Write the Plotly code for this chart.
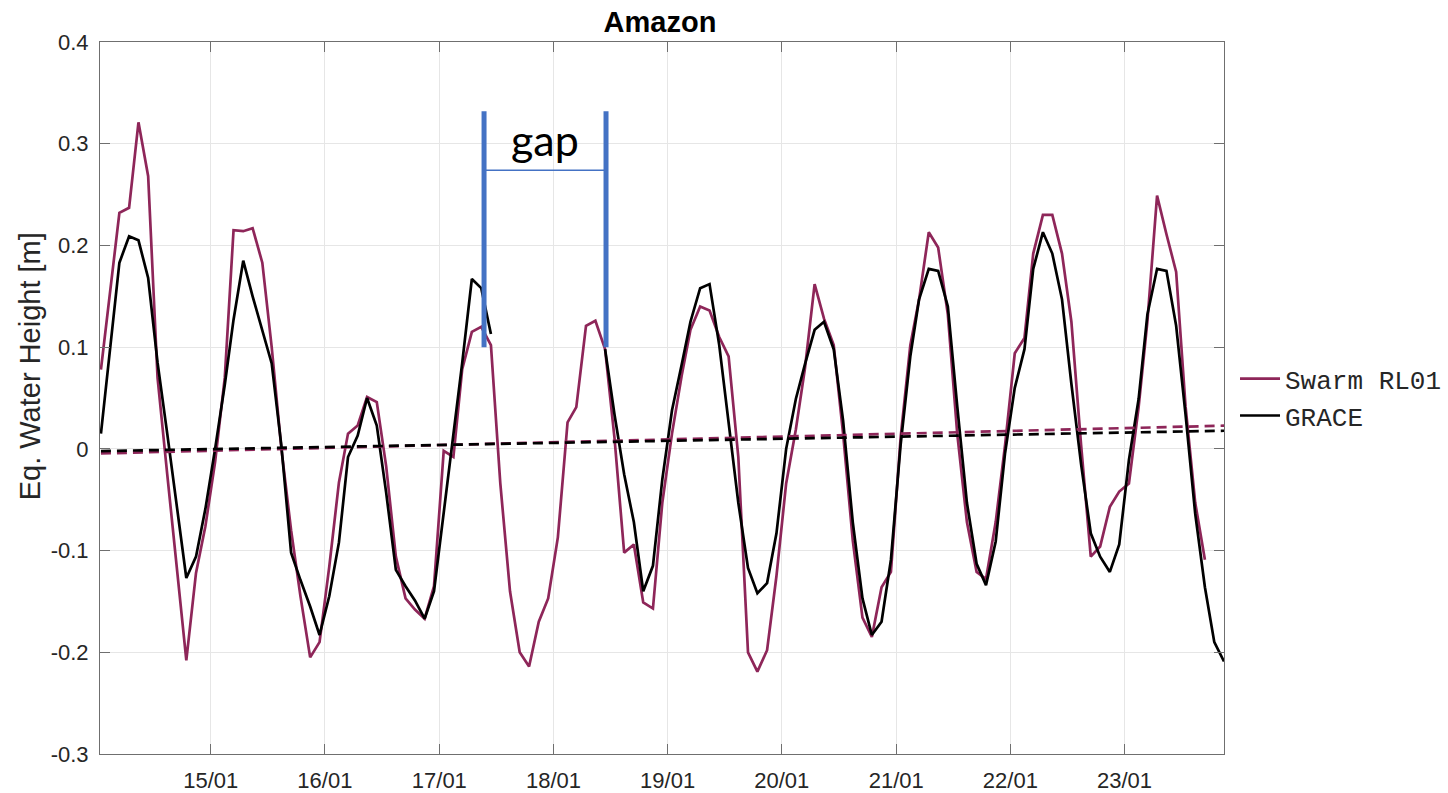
import plotly.graph_objects as go

# ---------------- data ----------------
n_months = 119  # 2014-01 .. 2023-11
dates = [f"{2014 + i // 12}-{i % 12 + 1:02d}-15" for i in range(n_months)]

swarm_values = [
    0.078, 0.16, 0.232, 0.237, 0.321, 0.268, 0.07, -0.025, -0.12, -0.208, -0.122, -0.076,
    -0.013, 0.07, 0.215, 0.214, 0.217, 0.183, 0.1, 0.0, -0.08, -0.145, -0.205, -0.19,
    -0.116, -0.033, 0.015, 0.023, 0.051, 0.046, -0.017, -0.106, -0.147, -0.158, -0.167, -0.135,
    -0.002, -0.008, 0.078, 0.115, 0.12, 0.102, -0.034, -0.14, -0.2, -0.214, -0.17, -0.147,
    -0.087, 0.026, 0.041, 0.121, 0.126, 0.098, 0.011, -0.102, -0.094, -0.151, -0.157, -0.053,
    0.015, 0.072, 0.117, 0.14, 0.136, 0.11, 0.091, -0.008, -0.2, -0.219, -0.198, -0.125,
    -0.034, 0.019, 0.079, 0.162, 0.128, 0.102, 0.015, -0.09, -0.166, -0.185, -0.136, -0.121,
    0.011, 0.102, 0.147, 0.213, 0.198, 0.132, 0.015, -0.072, -0.121, -0.128, -0.072, 0.004,
    0.094, 0.109, 0.192, 0.23, 0.23, 0.192, 0.125, 0.004, -0.106, -0.096, -0.057, -0.042,
    -0.034, 0.041, 0.125, 0.249, 0.211, 0.174, 0.042, -0.053, -0.109,
]

grace_values = [
    0.015, 0.10, 0.183, 0.209, 0.205, 0.168, 0.085, 0.015, -0.06, -0.127, -0.106, -0.059,
    0.0, 0.063, 0.127, 0.185, 0.15, 0.117, 0.084, 0.003, -0.102, -0.129, -0.155, -0.183,
    -0.145, -0.092, -0.008, 0.013, 0.05, 0.023, -0.043, -0.119, -0.135, -0.149, -0.167, -0.14,
    -0.063, 0.017, 0.084, 0.167, 0.158, 0.113,
    None, None, None, None, None, None, None, None, None, None, None,  # GRACE / GRACE-FO gap
    0.098, 0.034, -0.025, -0.072, -0.14, -0.115, -0.03,
    0.038, 0.083, 0.125, 0.158, 0.162, 0.102, 0.026, -0.053, -0.117, -0.142, -0.132, -0.083,
    0.0, 0.049, 0.083, 0.117, 0.125, 0.098, 0.028, -0.072, -0.147, -0.183, -0.17, -0.109,
    0.004, 0.091, 0.147, 0.177, 0.175, 0.14, 0.042, -0.053, -0.113, -0.134, -0.091, -0.004,
    0.06, 0.098, 0.177, 0.213, 0.192, 0.147, 0.064, -0.015, -0.083, -0.106, -0.121, -0.094,
    -0.011, 0.049, 0.132, 0.177, 0.175, 0.121, 0.034, -0.064, -0.136, -0.19, -0.209,
]

trend_dates = [dates[0], dates[-1]]
swarm_trend = [-0.0045, 0.0228]
grace_trend = [-0.0022, 0.0178]

xtick_vals = [f"{y}-01-01" for y in range(2015, 2024)]
xtick_text = [f"{y % 100}/01" for y in range(2015, 2024)]
ytick_vals = [-0.3, -0.2, -0.1, 0.0, 0.1, 0.2, 0.3, 0.4]
ytick_text = ["-0.3", "-0.2", "-0.1", "0", "0.1", "0.2", "0.3", "0.4"]

gap_start, gap_end = "2017-05-24", "2018-06-18"
gap_mid = "2017-12-05"

# ---------------- styles ----------------
SWARM_COLOR = "#8E2659"
GRACE_COLOR = "#000000"
GAP_BLUE = "#4472C4"
AXIS_COLOR = "#6f6f6f"
TEXT_COLOR = "#262626"

W, H = 1448, 793

fig = go.Figure()
fig.add_trace(go.Scatter(x=dates[:len(swarm_values)], y=swarm_values, mode="lines",
                         name="Swarm RL01", line=dict(color=SWARM_COLOR, width=2.7)))
fig.add_trace(go.Scatter(x=dates[:len(grace_values)], y=grace_values, mode="lines",
                         name="GRACE", line=dict(color=GRACE_COLOR, width=2.7),
                         connectgaps=False))
fig.add_trace(go.Scatter(x=trend_dates, y=swarm_trend, mode="lines", showlegend=False,
                         line=dict(color=SWARM_COLOR, width=2.7, dash="10px,6px")))
fig.add_trace(go.Scatter(x=trend_dates, y=grace_trend, mode="lines", showlegend=False,
                         line=dict(color=GRACE_COLOR, width=2.7, dash="10px,6px")))

# gap annotation
for gx in (gap_start, gap_end):
    fig.add_shape(type="line", xref="x", yref="y", x0=gx, x1=gx, y0=0.1, y1=0.332,
                  line=dict(color=GAP_BLUE, width=5))
fig.add_shape(type="line", xref="x", yref="y", x0=gap_start, x1=gap_end, y0=0.274, y1=0.274,
              line=dict(color=GAP_BLUE, width=1.5))
fig.add_annotation(x=gap_mid, y=0.304, xref="x", yref="y", text="gap", showarrow=False,
                   font=dict(family="Lato", size=43, color="#000000"))

# y-axis label
fig.add_annotation(x=-0.062, y=0.545, xref="paper", yref="paper", text="Eq. Water Height [m]",
                   textangle=-90, showarrow=False, xanchor="center", yanchor="middle",
                   font=dict(family="Liberation Sans", size=29, color=TEXT_COLOR))

fig.update_layout(
    width=W, height=H,
    margin=dict(l=100, r=224, t=42, b=39, autoexpand=False),
    paper_bgcolor="white", plot_bgcolor="white",
    title=dict(text="<b>Amazon</b>", x=660 / W, xanchor="center", y=1 - 22 / H,
               yanchor="middle", font=dict(family="Liberation Sans", size=29, color="#000000")),
    showlegend=True,
    legend=dict(x=1.0098, xanchor="left", y=0.56, yanchor="top",
                font=dict(family="Liberation Mono", size=26, color=TEXT_COLOR),
                bgcolor="rgba(0,0,0,0)", itemwidth=40, tracegroupgap=0),
)

fig.update_xaxes(
    type="date", range=["2014-01-12", dates[-1]],
    tickvals=xtick_vals, ticktext=xtick_text,
    showgrid=True, gridcolor="#e6e6e6", gridwidth=1,
    showline=True, linecolor=AXIS_COLOR, linewidth=1, mirror="ticks",
    ticks="inside", ticklen=10, tickcolor=AXIS_COLOR, ticklabelstandoff=7,
    tickfont=dict(family="Liberation Sans", size=22, color=TEXT_COLOR),
    zeroline=False,
)
fig.update_yaxes(
    range=[-0.3, 0.4],
    tickvals=ytick_vals, ticktext=ytick_text,
    showgrid=True, gridcolor="#e6e6e6", gridwidth=1,
    showline=True, linecolor=AXIS_COLOR, linewidth=1, mirror="ticks",
    ticks="inside", ticklen=10, tickcolor=AXIS_COLOR, ticklabelstandoff=6,
    tickfont=dict(family="Liberation Sans", size=22, color=TEXT_COLOR),
    zeroline=False,
)

# remove the default page margin so the figure fills the window exactly
fig.write_html("out.html", config={"displayModeBar": False},
               post_script="document.body.style.margin='0px';document.body.style.overflow='hidden';")
